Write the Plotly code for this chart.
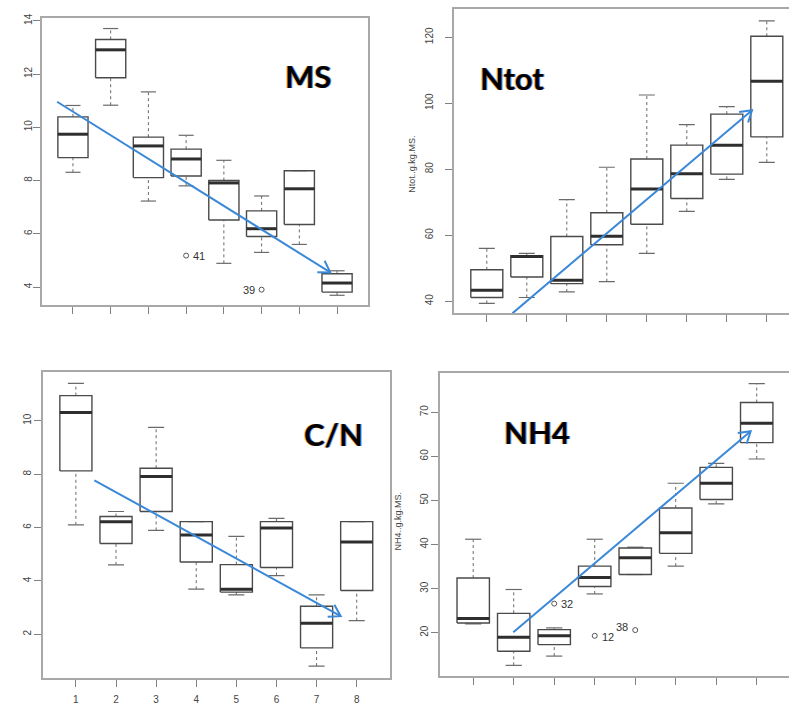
import math
import plotly.graph_objects as go

W, H = 789, 705

positions = [1, 2, 3, 4, 5, 6, 7, 8]
x_tick_labels = ["1", "2", "3", "4", "5", "6", "7", "8"]

# ---- MS ----
ms_low = [8.31, 10.83, 7.23, 7.80, 4.89, 5.30, 5.60, 3.69]
ms_q1 = [8.86, 11.86, 8.11, 8.17, 6.52, 5.90, 6.35, 3.81]
ms_med = [9.74, 12.91, 9.30, 8.81, 7.91, 6.19, 7.69, 4.15]
ms_q3 = [10.39, 13.30, 9.63, 9.18, 8.00, 6.86, 8.37, 4.50]
ms_high = [10.82, 13.71, 11.33, 9.70, 8.76, 7.42, 8.37, 4.61]
ms_out_x = [4, 6]
ms_out_y = [5.18, 3.90]
ms_out_lab = ["41", "39"]
ms_ticks = [4, 6, 8, 10, 12, 14]
ms_trend = ([0.58, 7.82], [10.96, 4.55])

# ---- Ntot ----
nt_low = [39.3, 41.1, 42.8, 45.9, 54.5, 67.2, 76.9, 82.1]
nt_q1 = [41.1, 47.3, 45.3, 57.1, 63.3, 71.1, 78.5, 89.8]
nt_med = [43.3, 53.5, 46.3, 59.7, 74.0, 78.6, 87.3, 106.7]
nt_q3 = [49.5, 53.8, 59.6, 66.8, 83.1, 87.3, 96.7, 120.3]
nt_high = [56.0, 54.5, 70.8, 80.6, 102.5, 93.5, 99.0, 125.0]
nt_ticks = [40, 60, 80, 100, 120]
nt_trend = ([1.64, 7.63], [36.3, 97.9])

# ---- C/N ----
cn_low = [6.10, 4.60, 5.89, 3.69, 3.48, 4.20, 0.81, 2.51]
cn_q1 = [8.12, 5.40, 6.60, 4.71, 3.58, 4.50, 1.49, 3.64]
cn_med = [10.31, 6.22, 7.91, 5.72, 3.69, 5.98, 2.41, 5.46]
cn_q3 = [10.94, 6.41, 8.22, 6.22, 4.61, 6.22, 3.05, 6.22]
cn_high = [11.40, 6.60, 9.75, 6.22, 5.67, 6.34, 3.48, 6.22]
cn_ticks = [2, 4, 6, 8, 10]
cn_trend = ([1.46, 7.60], [7.77, 2.68])

# ---- NH4 ----
nh_low = [22.0, 12.6, 14.7, 28.8, 33.2, 35.1, 49.2, 59.4]
nh_q1 = [22.2, 15.8, 17.3, 30.5, 33.2, 38.0, 50.2, 63.1]
nh_med = [23.2, 19.0, 19.3, 32.5, 37.0, 42.7, 53.9, 67.5]
nh_q3 = [32.4, 24.4, 20.7, 35.1, 39.2, 48.3, 57.5, 72.2]
nh_high = [41.2, 29.8, 21.1, 41.2, 39.4, 53.9, 58.4, 76.5]
nh_out_x = [3, 4, 5]
nh_out_y = [26.6, 19.3, 20.6]
nh_out_lab = ["32", "12", "38"]
nh_ticks = [10, 20, 30, 40, 50, 60, 70]
nh_trend = ([1.99, 7.85], [20.1, 65.7])

# ---------------- layout (pixel frames) ----------------
# outlier label placement: (side, dy in px)
panels = [
    dict(title="MS", low=ms_low, q1=ms_q1, med=ms_med, q3=ms_q3, high=ms_high,
         xpx=(42, 368), ypx=(13, 302.7), xr=(0.18, 8.82), yr=(3.32, 14.11),
         yticks=ms_ticks, trend=ms_trend, showx=False, mirror_y=True,
         out=(ms_out_x, ms_out_y, ms_out_lab, [("r", 0), ("l", 0)]),
         title_pos=(308, 72), ytitle=None, standoff=-3),
    dict(title="Ntot", low=nt_low, q1=nt_q1, med=nt_med, q3=nt_q3, high=nt_high,
         xpx=(454, 789), ypx=(4.3, 311), xr=(0.18, 8.555), yr=(36.3, 128.5),
         yticks=nt_ticks, trend=nt_trend, showx=False, mirror_y=False,
         out=None, title_pos=(512, 74), ytitle=("Ntot..g.kg.MS.", 412, 160), standoff=8),
    dict(title="C/N", low=cn_low, q1=cn_q1, med=cn_med, q3=cn_q3, high=cn_high,
         xpx=(43, 389.6), ypx=(370, 679), xr=(0.18, 8.82), yr=(0.355, 11.83),
         yticks=cn_ticks, trend=cn_trend, showx=True, mirror_y=True,
         out=None, title_pos=(333, 433), ytitle=None, standoff=-1),
    dict(title="NH4", low=nh_low, q1=nh_q1, med=nh_med, q3=nh_q3, high=nh_high,
         xpx=(440, 789), ypx=(370.7, 676.7), xr=(0.18, 8.797), yr=(10.2, 79.0),
         yticks=nh_ticks, trend=nh_trend, showx=False, mirror_y=False,
         out=(nh_out_x, nh_out_y, nh_out_lab, [("r", 0), ("r", 1), ("l", -3)]),
         title_pos=(537, 431), ytitle=("NH4..g.kg.MS.", 398, 520), standoff=-1),
]

BOX_COL = "#4a4a4a"
MED_COL = "#2e2e2e"
WHISK_COL = "#6a6a6a"
FRAME_COL = "#a8a8a8"
TICK_COL = "#808080"
LABEL_COL = "#444444"
ARROW_COL = "#3a88d8"
HALF = 0.4
CAP = 0.2

fig = go.Figure()
layout = dict(width=W, height=H, margin=dict(l=0, r=0, t=0, b=0),
              paper_bgcolor="white", plot_bgcolor="white", showlegend=False,
              font=dict(family="Liberation Sans, Arial", color=LABEL_COL))
annotations = []

for k, p in enumerate(panels, start=1):
    xa = "x" if k == 1 else f"x{k}"
    ya = "y" if k == 1 else f"y{k}"
    bx, by = [], []
    mx, my = [], []
    wx, wy = [], []
    cx, cy = [], []
    for i, pos in enumerate(positions):
        lo, a, m, b, hi = p["low"][i], p["q1"][i], p["med"][i], p["q3"][i], p["high"][i]
        bx += [pos - HALF, pos + HALF, pos + HALF, pos - HALF, pos - HALF, None]
        by += [a, a, b, b, a, None]
        mx += [pos - HALF, pos + HALF, None]
        my += [m, m, None]
        wx += [pos, pos, None, pos, pos, None]
        wy += [b, hi, None, lo, a, None]
        cx += [pos - CAP, pos + CAP, None, pos - CAP, pos + CAP, None]
        cy += [hi, hi, None, lo, lo, None]
    fig.add_trace(go.Scatter(x=wx, y=wy, mode="lines", xaxis=xa, yaxis=ya,
                             line=dict(color=WHISK_COL, width=1, dash="dot"), hoverinfo="skip"))
    fig.add_trace(go.Scatter(x=cx, y=cy, mode="lines", xaxis=xa, yaxis=ya,
                             line=dict(color=WHISK_COL, width=1.2), hoverinfo="skip"))
    fig.add_trace(go.Scatter(x=bx, y=by, mode="lines", xaxis=xa, yaxis=ya,
                             line=dict(color=BOX_COL, width=1.4), hoverinfo="skip"))
    fig.add_trace(go.Scatter(x=mx, y=my, mode="lines", xaxis=xa, yaxis=ya,
                             line=dict(color=MED_COL, width=3), hoverinfo="skip"))

    if p["out"] is not None:
        ox, oy, ol, place = p["out"]
        fig.add_trace(go.Scatter(x=ox, y=oy, mode="markers", xaxis=xa, yaxis=ya,
                                 marker=dict(symbol="circle-open", size=5, color="#555555",
                                             line=dict(width=1)),
                                 hoverinfo="skip", cliponaxis=False))
        for xx, yy, lab, (side, dy) in zip(ox, oy, ol, place):
            annotations.append(dict(text=lab, x=xx, y=yy, xref=xa, yref=ya, showarrow=False,
                                    xanchor="left" if side == "r" else "right",
                                    yanchor="middle",
                                    xshift=5 if side == "r" else -5, yshift=-dy,
                                    font=dict(size=11, color="#333333")))

    # pixel scale for the trend arrow head
    sx = (p["xpx"][1] - p["xpx"][0]) / (p["xr"][1] - p["xr"][0])
    sy = (p["ypx"][1] - p["ypx"][0]) / (p["yr"][1] - p["yr"][0])
    (tx0, tx1), (ty0, ty1) = p["trend"]
    fig.add_trace(go.Scatter(x=[tx0, tx1], y=[ty0, ty1], mode="lines", xaxis=xa, yaxis=ya,
                             line=dict(color=ARROW_COL, width=2), hoverinfo="skip"))
    dxp = (tx1 - tx0) * sx
    dyp = (ty1 - ty0) * sy
    ln = math.hypot(dxp, dyp)
    ux, uy = dxp / ln, dyp / ln
    L, th = 13, math.radians(32)
    hx, hy = [], []
    for sgn in (1, -1):
        c, s = math.cos(sgn * th), math.sin(sgn * th)
        rx = ux * c - uy * s
        ry = ux * s + uy * c
        hx.append(tx1 - L * rx / sx)
        hy.append(ty1 - L * ry / sy)
    fig.add_trace(go.Scatter(x=[hx[0], tx1, hx[1]], y=[hy[0], ty1, hy[1]], mode="lines",
                             xaxis=xa, yaxis=ya, line=dict(color=ARROW_COL, width=2),
                             hoverinfo="skip"))

    xdom = [p["xpx"][0] / W, min(p["xpx"][1] / W, 1)]
    ydom = [1 - p["ypx"][1] / H, 1 - p["ypx"][0] / H]
    layout["xaxis" if k == 1 else f"xaxis{k}"] = dict(
        domain=xdom, range=list(p["xr"]), anchor=ya,
        tickmode="array", tickvals=positions, ticktext=x_tick_labels,
        showticklabels=p["showx"], ticks="outside", ticklen=7, tickwidth=1.2,
        tickcolor=TICK_COL, showline=True, linecolor=FRAME_COL, linewidth=1.5,
        mirror=True, showgrid=False, zeroline=False, fixedrange=True,
        tickfont=dict(size=10, color=LABEL_COL), ticklabelstandoff=4)
    layout["yaxis" if k == 1 else f"yaxis{k}"] = dict(
        domain=ydom, range=list(p["yr"]), anchor=xa,
        tickmode="array", tickvals=p["yticks"], tickangle=-90,
        ticks="outside", ticklen=7, tickwidth=1.2, tickcolor=TICK_COL,
        showline=True, linecolor=FRAME_COL, linewidth=1.5, mirror=p["mirror_y"],
        showgrid=False, zeroline=False, fixedrange=True,
        tickfont=dict(size=10, color=LABEL_COL), ticklabelstandoff=p["standoff"])

    # panel title with slight colour fringe (text shadow)
    tx, ty = p["title_pos"]
    annotations.append(dict(text=f"<b>{p['title']}</b>", xref="paper", yref="paper",
                            x=tx / W, y=1 - ty / H, xanchor="center", yanchor="middle",
                            showarrow=False,
                            font=dict(family="Lato, Open Sans, sans-serif", size=31,
                                      color="#000000",
                                      shadow="-1px 0px 0px rgba(230,150,50,0.75), "
                                             "1px 0px 0px rgba(40,100,210,0.75)")))
    if p["ytitle"] is not None:
        t, ax_, ay_ = p["ytitle"]
        annotations.append(dict(text=t, xref="paper", yref="paper", x=ax_ / W, y=1 - ay_ / H,
                                xanchor="center", yanchor="middle", showarrow=False,
                                textangle=-90, font=dict(size=9, color=LABEL_COL)))

layout["annotations"] = annotations
fig.update_layout(**layout)
fig.write_html("out.html", config={"displayModeBar": False},
               post_script="document.body.style.margin='0';document.body.style.padding='0';")
